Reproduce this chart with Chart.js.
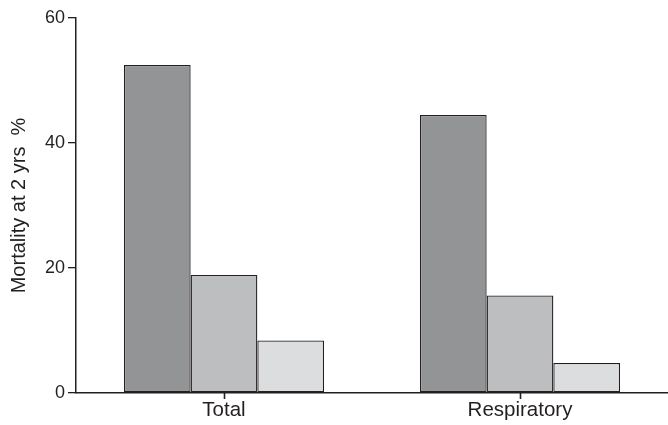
<!DOCTYPE html>
<html>
<head>
<meta charset="utf-8">
<script src="https://cdn.jsdelivr.net/npm/chart.js@4/dist/chart.umd.min.js"></script>
<style>
  html, body { margin: 0; padding: 0; background: #ffffff; }
  #wrap { width: 668px; height: 425px; position: relative; }
</style>
</head>
<body>
<div id="wrap"><canvas id="chart"></canvas></div>
<script>
// Mortality at two years, by cause, for three groups
const categories = ['Total', 'Respiratory'];
const groupA = [52.5, 44.5];
const groupB = [18.9, 15.6];
const groupC = [8.4, 4.8];
const yTicks = [0, 20, 40, 60];

const ink = '#231f20';
const fontFamily = '"Liberation Sans", Arial, Helvetica, sans-serif';

const barStyle = {
  borderColor: ink,
  borderWidth: 1.3,
  borderSkipped: false,
  barPercentage: 1,
  categoryPercentage: 0.676
};

// Short tick marks under the category axis, one at each category centre
const categoryTickMarks = {
  id: 'categoryTickMarks',
  afterDraw(chart) {
    const xs = chart.scales.x;
    const ctx = chart.ctx;
    const y0 = xs.top;
    ctx.save();
    ctx.strokeStyle = ink;
    ctx.lineWidth = 1.6;
    categories.forEach((c, i) => {
      const px = Math.round(xs.getPixelForValue(i)) + 0.5;
      ctx.beginPath();
      ctx.moveTo(px, y0);
      ctx.lineTo(px, y0 + 6);
      ctx.stroke();
    });
    ctx.restore();
  }
};

new Chart(document.getElementById('chart'), {
  type: 'bar',
  data: {
    labels: categories,
    datasets: [
      Object.assign({ label: 'Group A', data: groupA, backgroundColor: '#939496' }, barStyle),
      Object.assign({ label: 'Group B', data: groupB, backgroundColor: '#bdbec0' }, barStyle),
      Object.assign({ label: 'Group C', data: groupC, backgroundColor: '#dcdddf' }, barStyle)
    ]
  },
  plugins: [categoryTickMarks],
  options: {
    responsive: true,
    maintainAspectRatio: false,
    animation: false,
    layout: { padding: { top: 18, right: 0, bottom: 0, left: 0 } },
    plugins: {
      legend: { display: false },
      tooltip: { enabled: false }
    },
    scales: {
      x: {
        grid: { display: false, drawTicks: false },
        border: { display: true, color: ink, width: 1.5 },
        ticks: { color: ink, font: { family: fontFamily, size: 20.5 }, padding: 5, maxRotation: 0 },
        afterFit: function (scale) { scale.height = 32; }
      },
      y: {
        min: 0,
        max: 60,
        afterBuildTicks: function (scale) { scale.ticks = yTicks.map(v => ({ value: v })); },
        grid: { display: true, drawOnChartArea: false, drawTicks: true, tickLength: 8, color: ink, lineWidth: 1.3 },
        border: { display: true, color: ink, width: 1.5 },
        ticks: { color: ink, font: { family: fontFamily, size: 18 }, padding: 3 },
        title: {
          display: true,
          text: 'Mortality at 2 yrs  %',
          color: ink,
          font: { family: fontFamily, size: 20, weight: 'normal' },
          padding: { top: 7, bottom: 0 }
        },
        afterFit: function (scale) { scale.width = 76; }
      }
    }
  }
});
</script>
</body>
</html>
